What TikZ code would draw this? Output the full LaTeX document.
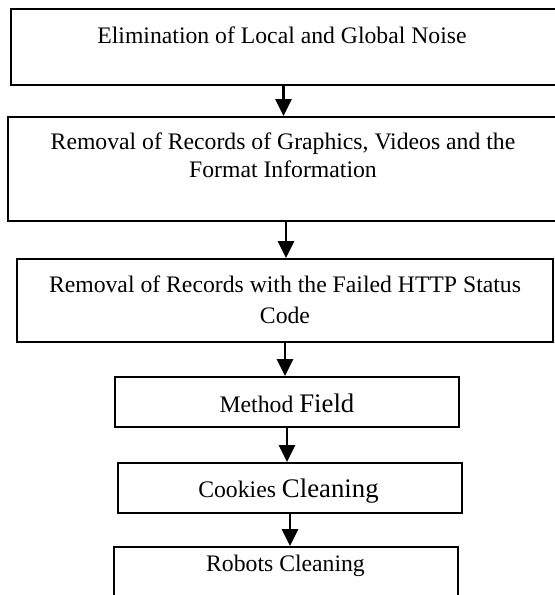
\documentclass[tikz,border=0pt]{standalone}
\usepackage{fontspec}
\setmainfont{Liberation Serif}
\usetikzlibrary{arrows.meta}

\tikzset{
  stepbox/.style={draw, line width=0.9pt, inner sep=0pt},
  steptext/.style={inner sep=0pt, align=center, font=\fontsize{11.85}{14}\selectfont},
  flow/.style={line width=1.2pt, -{Triangle[width=8pt,length=8.5pt]}}
}
\newcommand{\bigword}[1]{{\fontsize{13.4}{14}\selectfont #1}}

\begin{document}
\begin{tikzpicture}[x=0.5pt,y=-0.5pt]
\useasboundingbox (0,0) rectangle (554,595);

\node[stepbox, minimum width=272.5pt, minimum height=38pt] (noise) at (283.5,47) {};
\node[stepbox, minimum width=278pt, minimum height=52pt] (graphics) at (286,169) {};
\node[stepbox, minimum width=268pt, minimum height=41.5pt] (status) at (285,300.5) {};
\node[stepbox, minimum width=172pt, minimum height=25pt] (method) at (287,402) {};
\node[stepbox, minimum width=172pt, minimum height=25pt] (cookies) at (290,488) {};
\node[stepbox, minimum width=172pt, minimum height=39pt] (robots) at (286,586) {};

\node[steptext, anchor=base] (noise-text) at (282,43) {Elimination of Local and Global Noise};
\node[steptext, anchor=north] (graphics-text) at (283,132)
  {Removal of Records of Graphics, Videos and the\\Format Information};
\node[steptext, anchor=north, font=\fontsize{11.85}{15.5}\selectfont] (status-text) at (285,275.5)
  {Removal of Records with the Failed HTTP Status\\Code};
\node[steptext, anchor=base] (method-text) at (287,412) {Method \bigword{Field}};
\node[steptext, anchor=base] (cookies-text) at (288.5,497) {Cookies \bigword{Cleaning}};
\node[steptext, anchor=base] (robots-text) at (285.5,571) {Robots Cleaning};

\draw[flow] (noise.south) -- (noise.south |- graphics.north);
\draw[flow] (graphics.south) -- (graphics.south |- status.north);
\draw[flow] (status.south) -- (status.south |- method.north);
\draw[flow] (method.south) -- (method.south |- cookies.north);
\draw[flow] (cookies.south) -- (cookies.south |- robots.north);

\end{tikzpicture}
\end{document}
